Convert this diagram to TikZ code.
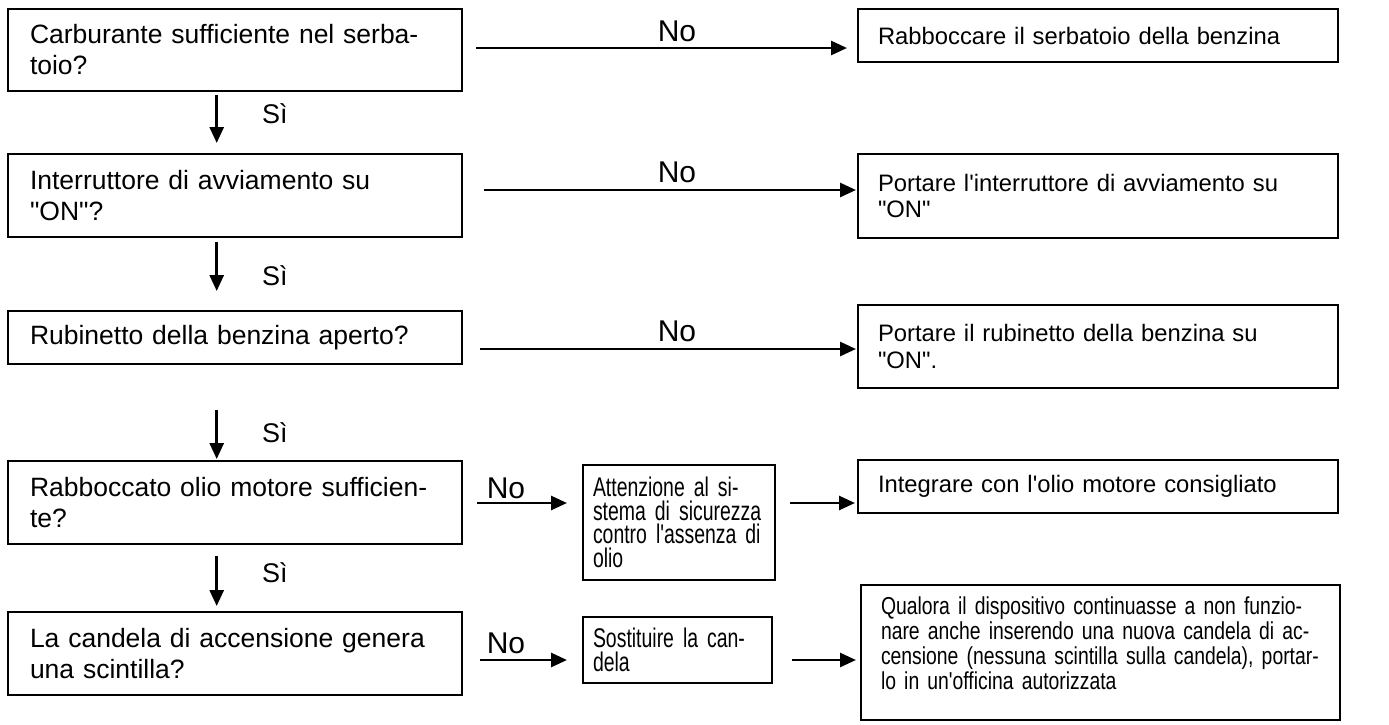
\documentclass[tikz,border=0pt]{standalone}
\usepackage{fontspec}
\setmainfont{Liberation Sans}
\newfontfamily\regfont{Liberation Sans}
\newfontfamily\narrowfont[FakeStretch=0.72]{Liberation Sans}
\newfontfamily\narrowfontb[FakeStretch=0.79]{Liberation Sans}
\usetikzlibrary{arrows.meta}
\newcommand{\jline}[2]{\makebox[#1][s]{#2}}
\newcommand{\dq}{\char34\relax}
\tikzset{
  frame/.style={draw, line width=1.6pt, rectangle, align=left, inner ysep=0pt},
  lbox/.style={frame, text width=410pt, inner xsep=22pt, minimum height=#1,
    font=\regfont\fontsize{26.5}{31}\selectfont},
  rbox/.style={frame, text width=440pt, inner xsep=20pt, minimum height=#1,
    font=\regfont\fontsize{23.8}{26.5}\selectfont},
  mbox/.style={frame, inner xsep=10pt, minimum height=#1,
    font=\narrowfont\fontsize{27}{23.5}\selectfont},
  arr/.style={line width=2.8pt, -{Triangle[length=16pt,width=14pt]}},
  nolab/.style={anchor=base, inner sep=0pt, font=\regfont\fontsize{30}{36}\selectfont},
  silab/.style={anchor=base west, inner sep=0pt, font=\regfont\fontsize{27}{31}\selectfont},
}
\begin{document}
\begin{tikzpicture}[x=1pt,y=-1pt]
\useasboundingbox (0,0) rectangle (1389,724);
% left column
\node[lbox=82pt] (b1) at (235,50) {Carburante sufficiente nel serba-\\toio?};
\node[lbox=83pt] (b2) at (235,195.5) {Interruttore di avviamento su\\\dq ON\dq ?};
\node[lbox=53pt] (b3) at (235,337.5) {Rubinetto della benzina aperto?};
\node[lbox=83pt] (b4) at (235,502.5) {Rabboccato olio motore sufficien-\\te?};
\node[lbox=83pt] (b5) at (235,653.5) {La candela di accensione genera\\una scintilla?};
% right column
\node[rbox=53pt] (r1) at (1098,35.5) {Rabboccare il serbatoio della benzina};
\node[rbox=84pt] (r2) at (1098,196) {Portare l'interruttore di avviamento su\\\dq ON\dq};
\node[rbox=83pt] (r3) at (1098,346.5) {Portare il rubinetto della benzina su\\\dq ON\dq .};
\node[rbox=53pt] (r4) at (1098,486.5) {Integrare con l'olio motore consigliato};
\node[frame, text width=439pt, inner xsep=20pt, minimum height=135pt,
  font=\narrowfontb\fontsize{24.5}{25}\selectfont] (r5) at (1100.5,652.5)
  {\jline{433pt}{Qualora il dispositivo continuasse a non funzio-}\\
   \jline{433pt}{nare anche inserendo una nuova candela di ac-}\\
   \jline{433pt}{censione (nessuna scintilla sulla candela), portar-}\\
   lo in un'officina autorizzata\\[-6pt]\mbox{}};
% middle column
\node[mbox=115pt, text width=172pt] (m1) at (679,522.5)
  {\jline{162pt}{Attenzione al si-}\\
   \jline{162pt}{stema di sicurezza}\\
   \jline{162pt}{contro l'assenza di}\\
   olio};
\node[mbox=66pt, text width=169pt] (m2) at (677.5,650)
  {\jline{163pt}{Sostituire la can-}\\dela};
% arrow end points
\coordinate (s1) at (216.7,95);  \coordinate (e1) at (216.7,143);
\coordinate (s2) at (216.7,242); \coordinate (e2) at (216.7,291);
\coordinate (s3) at (216.7,410); \coordinate (e3) at (216.7,459);
\coordinate (s4) at (216.7,556); \coordinate (e4) at (216.7,606);
\coordinate (h1s) at (476,48);  \coordinate (h1e) at (847,48);
\coordinate (h2s) at (484,190); \coordinate (h2e) at (856,190);
\coordinate (h3s) at (480,349); \coordinate (h3e) at (856,349);
\coordinate (h4s) at (477,503); \coordinate (h4e) at (567,503);
\coordinate (h5s) at (790,503); \coordinate (h5e) at (855,503);
\coordinate (h6s) at (480,660); \coordinate (h6e) at (567,660);
\coordinate (h7s) at (792,660); \coordinate (h7e) at (856,660);
% vertical arrows
\draw[arr] (s1) -- (e1);
\draw[arr] (s2) -- (e2);
\draw[arr] (s3) -- (e3);
\draw[arr] (s4) -- (e4);
% horizontal arrows
\draw[arr] (h1s) -- (h1e);
\draw[arr] (h2s) -- (h2e);
\draw[arr] (h3s) -- (h3e);
\draw[arr] (h4s) -- (h4e);
\draw[arr] (h5s) -- (h5e);
\draw[arr] (h6s) -- (h6e);
\draw[arr] (h7s) -- (h7e);
% labels
\node[silab] (y1) at (262,123) {Sì};
\node[silab] (y2) at (262,285) {Sì};
\node[silab] (y3) at (262,442) {Sì};
\node[silab] (y4) at (262,582) {Sì};
\node[nolab] (n1) at (677,41) {No};
\node[nolab] (n2) at (677,182) {No};
\node[nolab] (n3) at (677,341) {No};
\node[nolab] (n4) at (506,498) {No};
\node[nolab] (n5) at (506,653) {No};
\end{tikzpicture}
\end{document}
